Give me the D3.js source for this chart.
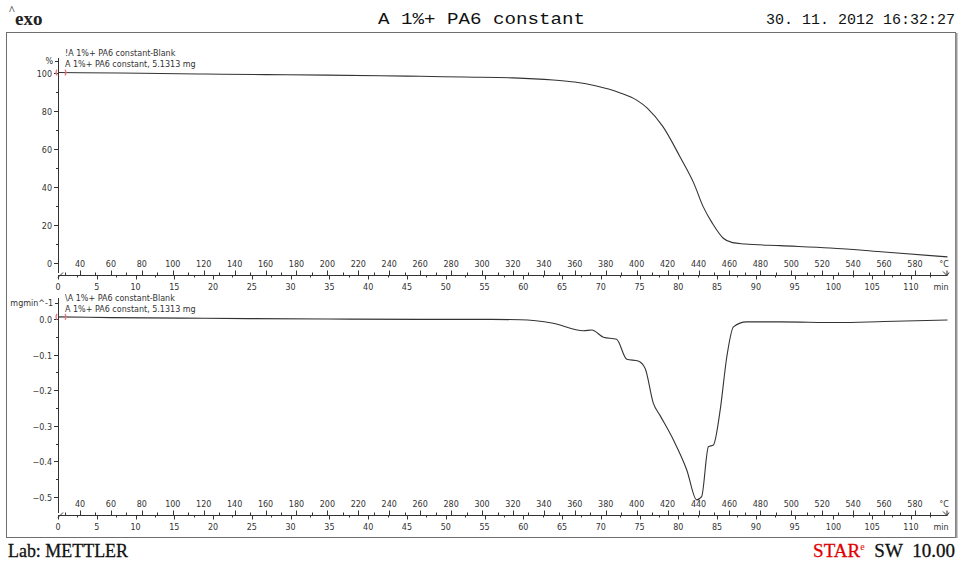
<!DOCTYPE html>
<html>
<head>
<meta charset="utf-8">
<script src="https://cdn.jsdelivr.net/npm/d3@7"></script>
<style>
  body { margin: 0; background: #fff; }
  svg { display: block; }
</style>
</head>
<body>
<svg id="chart"></svg>
<script>
let ink = "#333333";
let frameGray = "#6e6e6e";
let markerRed = "#e8747a";
let starRed = "#e00000";
let axisFont = "Tahoma, 'DejaVu Sans', sans-serif";

// TGA curve: temperature (°C) vs. mass (%)
const tgaTemp = [25.8, 40, 80, 120, 160, 200, 234, 260, 288, 320, 346, 360, 374, 389, 400, 407, 417, 428, 437, 443, 449, 456, 462, 470, 493, 525, 560, 601];
const tgaMass = [100, 99.9, 99.6, 99.2, 98.9, 98.6, 98.3, 98.0, 97.6, 97.2, 96.1, 95.0, 92.9, 89.4, 85.5, 81.2, 71.6, 55.8, 41.8, 29.6, 20.8, 13.0, 10.7, 10.0, 9.1, 7.9, 5.8, 3.2];

// DTG curve: temperature (°C) vs. mgmin^-1
const dtgTemp = [25.8, 60, 120, 200, 260, 300, 324.6, 346, 365.6, 371, 378.5, 387, 393.6, 401, 405.5, 410.8, 415, 423.8, 432.4, 438.8, 442, 446.4, 449.6, 454, 458.3, 462.6, 471, 492.8, 530, 560, 601];
const dtgRate = [0.006, 0.004, 0.002, 0.0, -0.001, -0.001, -0.002, -0.012, -0.033, -0.031, -0.051, -0.057, -0.113, -0.118, -0.139, -0.237, -0.27, -0.34, -0.424, -0.508, -0.499, -0.359, -0.354, -0.256, -0.106, -0.022, -0.008, -0.008, -0.010, -0.007, -0.003];

const tempTicks = d3.range(40, 581, 20);
const timeTicks = d3.range(0, 111, 5);
const massTicks = [0, 20, 40, 60, 80, 100];
const rateTicks = [-0.5, -0.4, -0.3, -0.2, -0.1, 0.0];

const legendLines = [
  ["!A 1%+ PA6 constant-Blank", "A 1%+ PA6 constant, 5.1313 mg"],
  ["\\A 1%+ PA6 constant-Blank", "A 1%+ PA6 constant, 5.1313 mg"]
];

const width = 963;
const height = 562;

const svg = d3.select("#chart")
  .attr("width", width)
  .attr("height", height);

// shared x scales (temperature and time on the same ruler)
const xLeft = 58;
const xRight = 947;

const tempScale = d3.scaleLinear()
  .domain([40, 580])
  .range([80, 915]);

const timeScale = d3.scaleLinear()
  .domain([0, 110])
  .range([58, 911]);

//frame
svg.append("rect")
  .attr("x", 6.5)
  .attr("y", 32.5)
  .attr("width", 949)
  .attr("height", 505)
  .attr("fill", "none")
  .attr("stroke", frameGray)
  .attr("stroke-width", 1);

svg.append("line")
  .attr("x1", 956.5).attr("x2", 956.5)
  .attr("y1", 33).attr("y2", 538)
  .attr("stroke", "#9a9a9a")
  .attr("stroke-width", 2);

//header
const header = svg.append("g");

header.append("text")
  .attr("x", 9)
  .attr("y", 14)
  .attr("font-family", "'Liberation Serif', serif")
  .attr("font-size", 12)
  .attr("fill", "#111")
  .text("^");

header.append("text")
  .attr("x", 15)
  .attr("y", 25)
  .attr("font-family", "'Liberation Serif', serif")
  .attr("font-size", 19)
  .attr("font-weight", "bold")
  .attr("fill", "#222")
  .text("exo");

header.append("text")
  .attr("x", 378)
  .attr("y", 24)
  .attr("font-family", "'Liberation Mono', monospace")
  .attr("font-size", 16)
  .attr("fill", "#111")
  .attr("textLength", 207)
  .attr("lengthAdjust", "spacingAndGlyphs")
  .text("A 1%+ PA6 constant");

header.append("text")
  .attr("x", 955)
  .attr("y", 24)
  .attr("text-anchor", "end")
  .attr("font-family", "'Liberation Mono', monospace")
  .attr("font-size", 15)
  .attr("fill", "#111")
  .text("30. 11. 2012 16:32:27");

//footer
svg.append("text")
  .attr("x", 8)
  .attr("y", 557)
  .attr("font-family", "'Liberation Serif', serif")
  .attr("font-size", 19)
  .attr("fill", "#111")
  .attr("stroke", "#111")
  .attr("stroke-width", 0.3)
  .attr("textLength", 120)
  .attr("lengthAdjust", "spacingAndGlyphs")
  .text("Lab: METTLER");

const star = svg.append("text")
  .attr("x", 955)
  .attr("y", 557)
  .attr("text-anchor", "end")
  .attr("font-family", "'Liberation Serif', serif")
  .attr("font-size", 19)
  .attr("word-spacing", 5)
  .attr("stroke-width", 0.3)
  .attr("fill", "#111");

star.append("tspan").attr("fill", starRed).attr("stroke", starRed).text("STAR");
star.append("tspan").attr("fill", starRed).attr("font-size", 10).attr("dy", -7).text("e");
star.append("tspan").attr("dy", 7).attr("stroke", "#111").text(" SW 10.00");

function drawPanel(cfg) {
  const g = svg.append("g");

  const yScale = d3.scaleLinear()
    .domain(cfg.domain)
    .range(cfg.range);

  //y axis line
  g.append("line")
    .attr("x1", xLeft + 0.5).attr("x2", xLeft + 0.5)
    .attr("y1", cfg.axisTop).attr("y2", cfg.rulerY - 2)
    .attr("stroke", ink);

  //unit tick and label
  g.append("line")
    .attr("x1", xLeft - 3).attr("x2", xLeft)
    .attr("y1", cfg.unitY + 0.5).attr("y2", cfg.unitY + 0.5)
    .attr("stroke", ink);

  g.append("text")
    .attr("x", xLeft - 5)
    .attr("y", cfg.unitY + 3)
    .attr("text-anchor", "end")
    .attr("font-family", axisFont)
    .attr("font-size", 8)
    .attr("fill", ink)
    .text(cfg.unit);

  //major y ticks
  cfg.ticks.forEach(v => {
    const y = Math.round(yScale(v)) + 0.5;
    g.append("line")
      .attr("x1", xLeft - 4).attr("x2", xLeft)
      .attr("y1", y).attr("y2", y)
      .attr("stroke", ink);
    g.append("text")
      .attr("x", xLeft - 6)
      .attr("y", y + 3)
      .attr("text-anchor", "end")
      .attr("font-family", axisFont)
      .attr("font-size", 8)
      .attr("fill", ink)
      .text(cfg.format(v));
  });

  //minor y ticks
  cfg.minor.forEach(v => {
    const y = Math.round(yScale(v)) + 0.5;
    g.append("line")
      .attr("x1", xLeft - 2).attr("x2", xLeft)
      .attr("y1", y).attr("y2", y)
      .attr("stroke", ink);
  });

  //legend
  cfg.legend.forEach((t, i) => {
    g.append("text")
      .attr("x", 65)
      .attr("y", cfg.legendY + i * 11)
      .attr("font-family", axisFont)
      .attr("font-size", 8)
      .attr("fill", ink)
      .text(t);
  });

  //curve
  const points = cfg.temps.map((t, i) => [tempScale(t), yScale(cfg.values[i])]);

  g.append("path")
    .datum(points)
    .attr("fill", "none")
    .attr("stroke", ink)
    .attr("stroke-width", 1.1)
    .attr("d", d3.line().curve(d3.curveMonotoneX));

  //red limit markers
  const yStart = yScale(cfg.values[0]);
  g.append("path")
    .attr("d", `M${xLeft - 1},${yStart - 3} q-2,3 0,6`)
    .attr("fill", "none")
    .attr("stroke", markerRed)
    .attr("stroke-width", 1.2);
  g.append("path")
    .attr("d", `M${xLeft + 7},${yStart - 3} q2,3 0,6`)
    .attr("fill", "none")
    .attr("stroke", markerRed)
    .attr("stroke-width", 1.2);

  //ruler
  const ry = cfg.rulerY + 0.5;
  g.append("line")
    .attr("x1", xLeft).attr("x2", xRight)
    .attr("y1", ry).attr("y2", ry)
    .attr("stroke", ink);

  g.append("path")
    .attr("d", `M${xLeft},${ry + 2} L${xLeft + 5},${ry - 3}`)
    .attr("fill", "none")
    .attr("stroke", ink);

  g.append("path")
    .attr("d", `M${xRight - 4},${ry - 4} L${xRight},${ry} L${xRight},${ry - 5} M${xRight},${ry} L${xRight + 2},${ry - 3}`)
    .attr("fill", "none")
    .attr("stroke", ink);

  // temperature ticks above the ruler
  d3.range(30, 600, 10).forEach(t => {
    const x = Math.round(tempScale(t)) + 0.5;
    if (x < xLeft + 4 || x > xRight - 2) return;
    g.append("line")
      .attr("x1", x).attr("x2", x)
      .attr("y1", ry).attr("y2", ry - (t % 20 === 0 ? 5 : 3))
      .attr("stroke", ink);
  });

  // time ticks below the ruler
  d3.range(0, 115, 2.5).forEach(t => {
    const x = Math.round(timeScale(t)) + 0.5;
    if (x > xRight - 2) return;
    g.append("line")
      .attr("x1", x).attr("x2", x)
      .attr("y1", ry).attr("y2", ry + (t % 5 === 0 ? 4 : 2))
      .attr("stroke", ink);
  });

  g.selectAll(".temp-label")
    .data(tempTicks)
    .enter()
    .append("text")
    .attr("x", d => tempScale(d))
    .attr("y", cfg.rulerY - 8)
    .attr("text-anchor", "middle")
    .attr("font-family", axisFont)
    .attr("font-size", 8)
    .attr("fill", ink)
    .text(d => d);

  g.append("text")
    .attr("x", 944)
    .attr("y", cfg.rulerY - 8)
    .attr("text-anchor", "middle")
    .attr("font-family", axisFont)
    .attr("font-size", 8)
    .attr("fill", ink)
    .text("°C");

  g.selectAll(".time-label")
    .data(timeTicks)
    .enter()
    .append("text")
    .attr("x", d => timeScale(d))
    .attr("y", cfg.rulerY + 15)
    .attr("text-anchor", "middle")
    .attr("font-family", axisFont)
    .attr("font-size", 8)
    .attr("fill", ink)
    .text(d => d);

  g.append("text")
    .attr("x", 941)
    .attr("y", cfg.rulerY + 15)
    .attr("text-anchor", "middle")
    .attr("font-family", axisFont)
    .attr("font-size", 8)
    .attr("fill", ink)
    .text("min");
}

drawPanel({
  domain: [0, 100],
  range: [263, 72.5],
  ticks: massTicks,
  minor: [10, 30, 50, 70, 90],
  format: d => d,
  unit: "%",
  unitY: 61,
  axisTop: 58,
  rulerY: 275,
  legend: legendLines[0],
  legendY: 56,
  temps: tgaTemp,
  values: tgaMass
});

drawPanel({
  domain: [-0.5, 0],
  range: [497, 319],
  ticks: rateTicks,
  minor: [-0.45, -0.35, -0.25, -0.15, -0.05],
  format: d3.format(".1f"),
  unit: "mgmin^-1",
  unitY: 303,
  axisTop: 298,
  rulerY: 515,
  legend: legendLines[1],
  legendY: 301,
  temps: dtgTemp,
  values: dtgRate
});
</script>
</body>
</html>
